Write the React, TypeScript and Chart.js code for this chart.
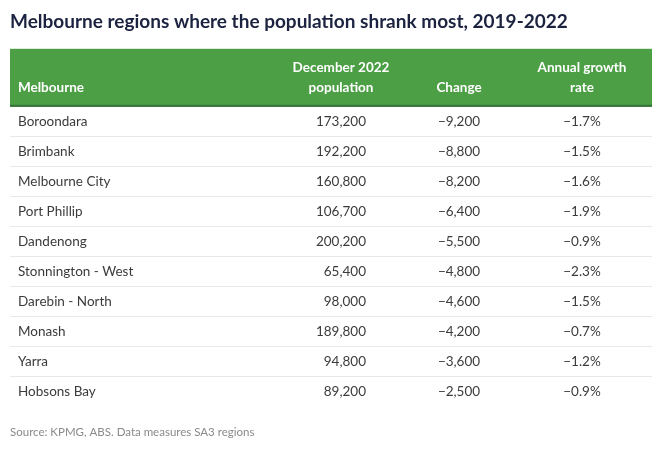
import React, { useEffect, useRef } from "react";
import { Chart, registerables } from "chart.js";

Chart.register(...registerables);

const TITLE = "Melbourne regions where the population shrank most, 2019-2022";
const SOURCE = "Source: KPMG, ABS. Data measures SA3 regions";
const HEADERS: string[][] = [["Melbourne"], ["December 2022", "population"], ["Change"], ["Annual growth", "rate"]];
const REGIONS = [
  "Boroondara",
  "Brimbank",
  "Melbourne City",
  "Port Phillip",
  "Dandenong",
  "Stonnington - West",
  "Darebin - North",
  "Monash",
  "Yarra",
  "Hobsons Bay",
];
const POPULATION = [173200, 192200, 160800, 106700, 200200, 65400, 98000, 189800, 94800, 89200];
const CHANGE = [-9200, -8800, -8200, -6400, -5500, -4800, -4600, -4200, -3600, -2500];
const GROWTH = [-1.7, -1.5, -1.6, -1.9, -0.9, -2.3, -1.5, -0.7, -1.2, -0.9];

// layout / style (not data)
const FONT = "Lato, 'Noto Sans', sans-serif";
const GREEN = "#4d9f46";
const DARK_GREEN = "#35733a";
const HEADER_H = 58;
const COLS = [
  { x: 18, align: "left" as CanvasTextAlign, headX: 18, headAlign: "left" as CanvasTextAlign },
  { x: 366, align: "right" as CanvasTextAlign, headX: 341, headAlign: "center" as CanvasTextAlign },
  { x: 459, align: "center" as CanvasTextAlign, headX: 459, headAlign: "center" as CanvasTextAlign },
  { x: 582, align: "center" as CanvasTextAlign, headX: 582, headAlign: "center" as CanvasTextAlign },
];

const fmtInt = (v: number) => (v < 0 ? "\u2212" : "") + Math.abs(v).toLocaleString("en-US");
const fmtPct = (v: number) => (v < 0 ? "\u2212" : "") + Math.abs(v).toFixed(1) + "%";
const FORMATS = [fmtInt, fmtInt, fmtPct];
const SERIES = [POPULATION, CHANGE, GROWTH];

const tablePlugin = {
  id: "tablePlugin",
  beforeDraw(chart: any) {
    const { ctx, chartArea } = chart;
    const top = chartArea.top - HEADER_H;
    const w = chartArea.right - chartArea.left;
    ctx.save();
    ctx.fillStyle = GREEN;
    ctx.fillRect(chartArea.left, top, w, HEADER_H);
    ctx.fillStyle = DARK_GREEN;
    ctx.fillRect(chartArea.left, chartArea.top - 2, w, 2);
    ctx.fillStyle = "#ffffff";
    ctx.font = `bold 13.5px ${FONT}`;
    ctx.textBaseline = "middle";
    HEADERS.forEach((lines, c) => {
      const col = COLS[c];
      ctx.textAlign = col.headAlign;
      const baseY = chartArea.top - 19;
      lines.forEach((line, k) => {
        const y = baseY - (lines.length - 1 - k) * 20.5;
        ctx.fillText(line, col.headX, y);
      });
    });
    ctx.restore();
  },
  afterDatasetsDraw(chart: any) {
    const { ctx } = chart;
    ctx.save();
    ctx.fillStyle = "#3b3b3b";
    ctx.font = `13.5px ${FONT}`;
    ctx.textBaseline = "middle";
    SERIES.forEach((vals, d) => {
      const meta = chart.getDatasetMeta(d);
      const col = COLS[d + 1];
      ctx.textAlign = col.align;
      meta.data.forEach((el: any, i: number) => {
        ctx.fillText(FORMATS[d](vals[i]), col.x, el.y);
      });
    });
    ctx.restore();
  },
};

export default function App() {
  const ref = useRef<HTMLCanvasElement | null>(null);
  useEffect(() => {
    document.body.style.margin = "0";
    if (!ref.current) return;
    const chart = new Chart(ref.current, {
      type: "scatter",
      data: {
        labels: REGIONS,
        datasets: SERIES.map((vals, d) => ({
          label: HEADERS[d + 1].join(" "),
          data: vals.map((v, i) => ({ x: d + 1, y: REGIONS[i], v })) as any,
          pointRadius: 0,
          pointHoverRadius: 0,
        })),
      },
      options: {
        animation: false,
        responsive: false,
        devicePixelRatio: 1,
        events: [],
        layout: { padding: { left: 10, right: 10, top: 0, bottom: 0 } },
        plugins: {
          legend: { display: false },
          tooltip: { enabled: false },
          title: {
            display: true,
            text: TITLE,
            align: "start",
            color: "#1c2340",
            font: { family: FONT, size: 19, weight: "bold" },
            padding: { top: 10, bottom: 16 },
          },
          subtitle: {
            display: true,
            position: "bottom",
            text: SOURCE,
            align: "start",
            color: "#8a8a8a",
            font: { family: FONT, size: 11.5 },
            padding: { top: 19, bottom: 21 },
          },
        },
        scales: {
          x: {
            type: "linear",
            position: "top",
            min: 0,
            max: 4,
            grid: { display: false },
            border: { display: false },
            ticks: { display: false },
            afterFit: (s: any) => {
              s.height = HEADER_H;
            },
          },
          y: {
            type: "category",
            labels: REGIONS,
            offset: true,
            position: "left",
            border: { display: false },
            grid: {
              offset: true,
              drawTicks: false,
              tickLength: 0,
              lineWidth: 1,
              color: (c: any) =>
                typeof c.index !== "number" || c.index <= 0 || c.index >= REGIONS.length
                  ? "rgba(0,0,0,0)"
                  : "#e8e8e8",
            },
            ticks: {
              mirror: true,
              padding: 8,
              color: "#3b3b3b",
              font: { family: FONT, size: 13.5 },
            },
            afterFit: (s: any) => {
              s.width = 0;
            },
          },
        },
      } as any,
      plugins: [tablePlugin],
    });
    return () => chart.destroy();
  }, []);
  return (
    <div style={{ width: 662, height: 460, background: "#fff" }}>
      <canvas ref={ref} width={662} height={460} style={{ display: "block" }} />
    </div>
  );
}
